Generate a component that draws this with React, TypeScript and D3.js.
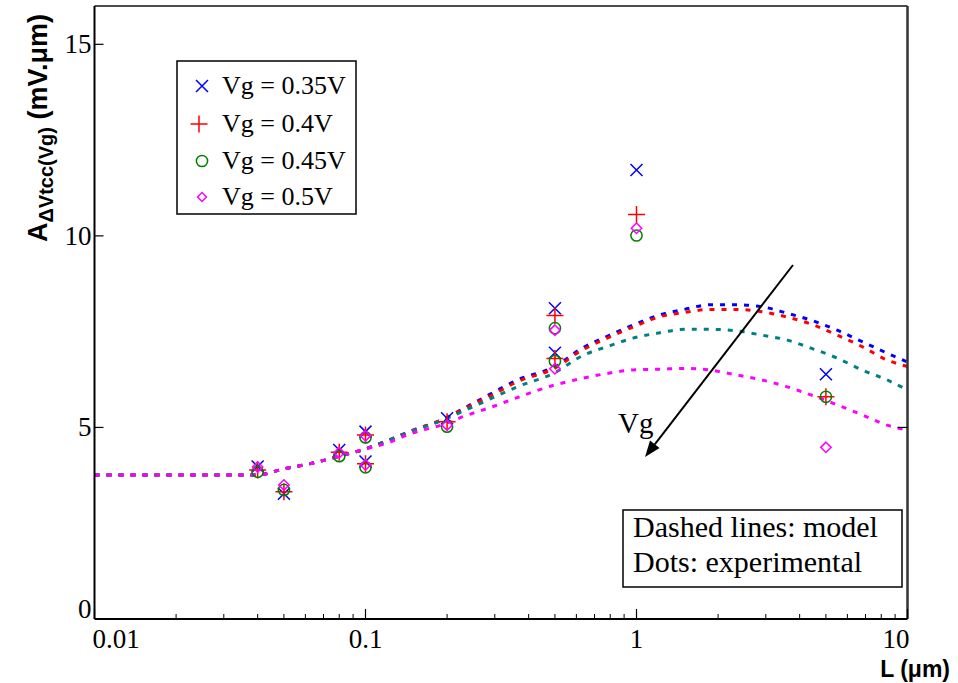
import React from "react";
import * as d3 from "d3";

// ---------- data ----------
const seriesNames = ["Vg = 0.35V", "Vg = 0.4V", "Vg = 0.45V", "Vg = 0.5V"];
const markerColors = ["#0000ff", "#ff0000", "#008000", "#ff00ff"];
const lineColors = ["#0000ff", "#ff0000", "#008080", "#ff00ff"];
const markerShapes = ["x", "plus", "circle", "diamond"];

// experimental points (L in µm)
const expL = [0.04, 0.05, 0.08, 0.1, 0.1, 0.2, 0.5, 0.5, 1, 5];
const exp035 = [3.98, 3.27, 4.41, 4.89, 4.11, 5.24, 8.11, 6.95, 11.72, 6.39];
const exp040 = [3.89, 3.32, 4.35, 4.8, 4.05, 5.15, 7.92, 6.8, 10.56, 5.8];
const exp045 = [3.84, 3.37, 4.25, 4.74, 3.96, 5.02, 7.59, 6.73, 10.01, 5.8];
const exp050 = [3.97, 3.5, 4.34, 4.78, 4.02, 5.06, 7.54, 6.53, 10.2, 4.48];

// model curves
const modelL = [0.01, 0.02, 0.03, 0.04, 0.05, 0.064, 0.08, 0.1, 0.12, 0.15, 0.19, 0.235, 0.294, 0.363, 0.5, 0.63, 0.78, 0.97, 1.22, 1.5, 1.86, 2.34, 2.9, 3.6, 4.4, 5.5, 6.8, 8.4, 10];
const model035 = [3.76, 3.76, 3.76, 3.76, 3.92, 4.07, 4.25, 4.44, 4.65, 4.93, 5.19, 5.53, 5.9, 6.24, 6.59, 7.07, 7.38, 7.67, 7.94, 8.08, 8.2, 8.2, 8.15, 7.98, 7.8, 7.54, 7.24, 6.94, 6.71];
const model040 = [3.76, 3.76, 3.76, 3.76, 3.92, 4.07, 4.25, 4.44, 4.65, 4.93, 5.19, 5.51, 5.85, 6.19, 6.55, 7.02, 7.33, 7.62, 7.89, 8.0, 8.08, 8.08, 8.02, 7.88, 7.7, 7.41, 7.11, 6.76, 6.59];
const model045 = [3.76, 3.76, 3.76, 3.76, 3.92, 4.07, 4.25, 4.44, 4.65, 4.92, 5.17, 5.46, 5.77, 6.06, 6.43, 6.87, 7.11, 7.33, 7.47, 7.56, 7.56, 7.52, 7.41, 7.28, 7.07, 6.81, 6.5, 6.24, 5.98];
const model050 = [3.76, 3.76, 3.76, 3.76, 3.92, 4.07, 4.25, 4.44, 4.59, 4.86, 5.06, 5.31, 5.54, 5.78, 6.11, 6.28, 6.41, 6.5, 6.52, 6.54, 6.5, 6.37, 6.24, 6.06, 5.85, 5.59, 5.33, 5.06, 4.93];

const expSeries = [exp035, exp040, exp045, exp050];
const modelSeries = [model035, model040, model045, model050];

const xTickValues = [0.01, 0.1, 1, 10];
const xTickLabels = ["0.01", "0.1", "1", "10"];
const yTickValues = [0, 5, 10, 15];

const arrowFrom = [3.78, 9.24];
const arrowTo = [1.075, 4.23];
const arrowLabelPos = [0.855, 4.86];

const noteLines = ["Dashed lines: model", "Dots: experimental"];

// ---------- layout ----------
const W = 958;
const H = 683;
const X0 = 94.5, X1 = 907.5, Y0 = 619, Y1 = 6;
const serif = "'Liberation Serif', 'Times New Roman', serif";
const sans = "'Liberation Sans', Arial, sans-serif";

function Marker({ shape, x, y, color, s = 1 }: { shape: string; x: number; y: number; color: string; s?: number }) {
  const sw = 1.5;
  if (shape === "x") {
    const r = 6 * s;
    return (
      <path d={`M${x - r},${y - r}L${x + r},${y + r}M${x - r},${y + r}L${x + r},${y - r}`} stroke={color} strokeWidth={sw} fill="none" />
    );
  }
  if (shape === "plus") {
    const r = 8.5 * s;
    return <path d={`M${x - r},${y}L${x + r},${y}M${x},${y - r}L${x},${y + r}`} stroke={color} strokeWidth={sw} fill="none" />;
  }
  if (shape === "circle") {
    return <circle cx={x} cy={y} r={5.6 * s} stroke={color} strokeWidth={sw} fill="none" />;
  }
  const r = 5.2 * s;
  return <path d={`M${x},${y - r}L${x + r},${y}L${x},${y + r}L${x - r},${y}Z`} stroke={color} strokeWidth={sw} fill="none" />;
}

export default function App() {
  const x = d3.scaleLog().domain([0.01, 10]).range([X0, X1]);
  const y = d3.scaleLinear().domain([0, 16]).range([Y0, Y1]);

  const line = d3
    .line<[number, number]>()
    .x((d) => x(d[0]))
    .y((d) => y(d[1]))
    .curve(d3.curveMonotoneX);

  const minorTicks: number[] = [];
  for (const dec of [0.01, 0.1, 1]) {
    for (let k = 2; k <= 9; k++) minorTicks.push(dec * k);
  }

  const ax1 = x(arrowFrom[0]), ay1 = y(arrowFrom[1]);
  const ax2 = x(arrowTo[0]), ay2 = y(arrowTo[1]);
  const ang = Math.atan2(ay2 - ay1, ax2 - ax1);
  const hl = 16, hw = 6;
  const bx = ax2 - hl * Math.cos(ang), by = ay2 - hl * Math.sin(ang);
  const head = `M${ax2},${ay2}L${bx + hw * Math.sin(ang)},${by - hw * Math.cos(ang)}L${bx - hw * Math.sin(ang)},${by + hw * Math.cos(ang)}Z`;

  const legendRowsY = [86, 124, 161, 197];

  return (
    <svg width={W} height={H} style={{ position: "absolute", left: 0, top: 0, background: "#fff" }}>
      <rect x={0} y={0} width={W} height={H} fill="#fff" />
      {/* model lines */}
      {modelSeries.map((vals, i) => (
        <path
          key={"m" + i}
          d={line(modelL.map((l, j) => [l, vals[j]] as [number, number])) || ""}
          fill="none"
          stroke={lineColors[i]}
          strokeWidth={3}
          strokeDasharray="5,7"
        />
      ))}
      {/* experimental points */}
      {expSeries.map((vals, i) =>
        vals.map((v, j) => (
          <Marker key={`p${i}-${j}`} shape={markerShapes[i]} x={x(expL[j])} y={y(v)} color={markerColors[i]} />
        ))
      )}

      {/* frame */}
      <line x1={X0} y1={Y1} x2={X1} y2={Y1} stroke="#111" strokeWidth={1.5} />
      <line x1={X1} y1={Y1} x2={X1} y2={Y0} stroke="#333" strokeWidth={2.5} />
      <line x1={X0} y1={Y1} x2={X0} y2={Y0} stroke="#000" strokeWidth={2} />
      <line x1={X0} y1={Y0} x2={X1} y2={Y0} stroke="#000" strokeWidth={2} />

      {/* x ticks */}
      {xTickValues.map((t, i) => (
        <g key={"xt" + i}>
          <line x1={x(t)} x2={x(t)} y1={Y0} y2={Y0 - 10} stroke="#000" strokeWidth={1.2} />
          <text
            x={i === 0 ? X0 - 2 : i === xTickValues.length - 1 ? X1 + 2 : x(t)}
            y={648}
            fontFamily={serif}
            fontSize={27}
            textAnchor={i === 0 ? "start" : i === xTickValues.length - 1 ? "end" : "middle"}
          >
            {xTickLabels[i]}
          </text>
        </g>
      ))}
      {minorTicks.map((t, i) => (
        <line key={"mt" + i} x1={x(t)} x2={x(t)} y1={Y0} y2={Y0 - 5} stroke="#000" strokeWidth={1} />
      ))}

      {/* y ticks */}
      {yTickValues.map((t, i) => (
        <g key={"yt" + i}>
          {t > 0 && <line x1={X0} x2={X0 + 9} y1={y(t)} y2={y(t)} stroke="#000" strokeWidth={1.2} />}
          <text
            x={X0 - 3}
            y={t === 0 ? 618 : y(t) + 9}
            fontFamily={serif}
            fontSize={27}
            textAnchor="end"
          >
            {t}
          </text>
        </g>
      ))}
      <line x1={X1 - 10} x2={X1} y1={y(5)} y2={y(5)} stroke="#000" strokeWidth={1.2} />

      {/* axis titles */}
      <text x={950} y={677} fontFamily={sans} fontWeight="bold" fontSize={23} textAnchor="end">
        L (μm)
      </text>
      <text transform="translate(47,128) rotate(-90)" fontFamily={sans} fontWeight="bold" fontSize={27} textAnchor="middle">
        A
        <tspan fontSize={20} dy={6}>ΔVtcc(Vg)</tspan>
        <tspan dy={-6}> (mV.μm)</tspan>
      </text>

      {/* legend */}
      <rect x={177} y={61} width={179} height={153} fill="#fff" stroke="#000" strokeWidth={1.5} />
      {seriesNames.map((n, i) => (
        <g key={"lg" + i}>
          <Marker shape={markerShapes[i]} x={i === 1 ? 199 : 202} y={legendRowsY[i]} color={markerColors[i]} s={i === 3 ? 0.85 : 1} />
          <text x={222} y={legendRowsY[i] + 8} fontFamily={serif} fontSize={26}>
            {n}
          </text>
        </g>
      ))}

      {/* note box */}
      <rect x={623} y={510} width={279} height={77} fill="#fff" stroke="#000" strokeWidth={1.5} />
      {noteLines.map((t, i) => (
        <text key={"n" + i} x={633} y={537 + i * 35} fontFamily={serif} fontSize={30}>
          {t}
        </text>
      ))}

      {/* Vg arrow */}
      <line x1={ax1} y1={ay1} x2={bx} y2={by} stroke="#000" strokeWidth={2} />
      <path d={head} fill="#000" />
      <text x={x(arrowLabelPos[0])} y={y(arrowLabelPos[1])} fontFamily={serif} fontSize={29}>
        Vg
      </text>
    </svg>
  );
}
